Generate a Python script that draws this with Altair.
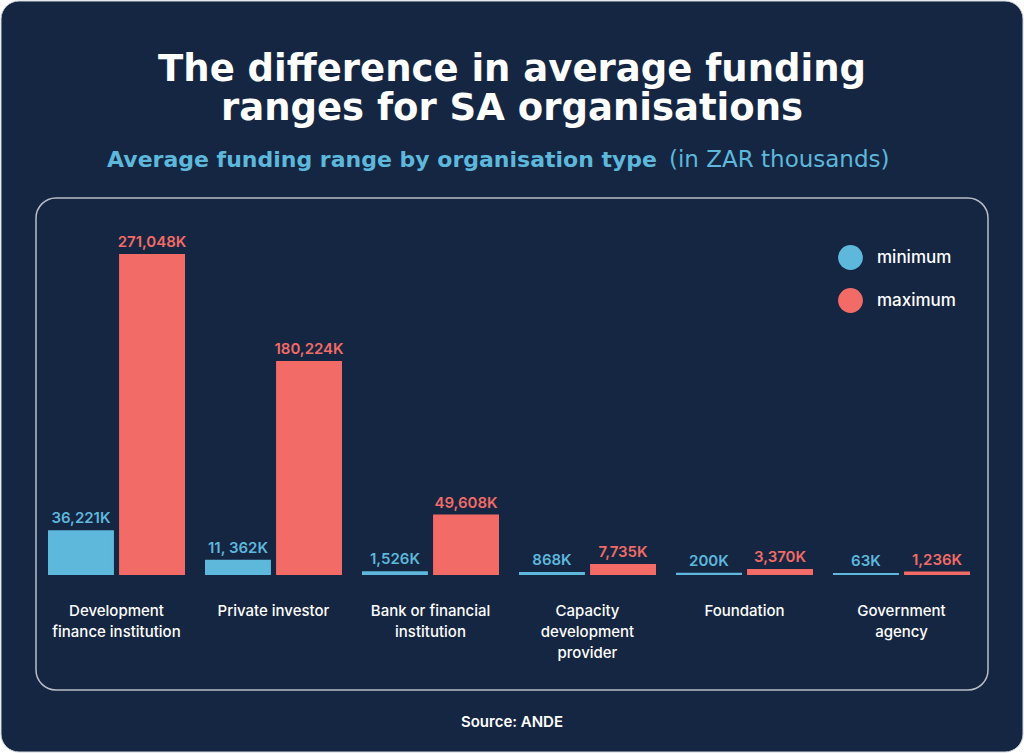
import altair as alt
import pandas as pd

categories = ["Development finance institution", "Private investor", "Bank or financial institution",
              "Capacity development provider", "Foundation", "Government agency"]
category_labels = ["Development\nfinance institution", "Private investor", "Bank or financial\ninstitution",
                   "Capacity\ndevelopment\nprovider", "Foundation", "Government\nagency"]
minimum = [36221, 11362, 1526, 868, 200, 63]
maximum = [271048, 180224, 49608, 7735, 3370, 1236]
min_labels = ["36,221K", "11, 362K", "1,526K", "868K", "200K", "63K"]
max_labels = ["271,048K", "180,224K", "49,608K", "7,735K", "3,370K", "1,236K"]
series = ["minimum", "maximum"]
colors = ["#5db8dc", "#f26b66"]

title_text = ["The difference in average funding\nranges for SA organisations"]
subtitle_bold = ["Average funding range by organisation type"]
subtitle_light = ["(in ZAR thousands)"]
source_text = ["Source: ANDE"]

BG = "#152642"
FONT = "Inter"
TFONT = "DejaVu Sans"

rows = []
for i, c in enumerate(categories):
    rows.append({"category": c, "series": "minimum", "value": minimum[i], "label": min_labels[i]})
    rows.append({"category": c, "series": "maximum", "value": maximum[i], "label": max_labels[i]})
df = pd.DataFrame(rows)
cat_df = pd.DataFrame({"category": categories, "clabel": category_labels})

x_enc = alt.X("category:N", sort=categories, axis=None,
              scale=alt.Scale(paddingInner=0.14, paddingOuter=0.07))
xo_enc = alt.XOffset("series:N", sort=series, scale=alt.Scale(paddingInner=0.1))
y_enc = alt.Y("value:Q", axis=None, scale=alt.Scale(domain=[0, 317800], nice=False))
color_scale = alt.Scale(domain=series, range=colors)

one = pd.DataFrame({"a": [0]})

outer = alt.Chart(one).mark_rect(fill=BG, cornerRadius=18, stroke="#cfd2d8", strokeWidth=1).encode(
    x=alt.value(-37), x2=alt.value(985), y=alt.value(-199), y2=alt.value(552))
frame = alt.Chart(one).mark_rect(fillOpacity=0, cornerRadius=20, stroke="#b9bdc6", strokeWidth=1.5).encode(
    x=alt.value(-2), x2=alt.value(950), y=alt.value(-2), y2=alt.value(490))

bars = alt.Chart(df).mark_bar(strokeWidth=2).encode(
    x=x_enc, xOffset=xo_enc, y=y_enc,
    color=alt.Color("series:N", sort=series, scale=color_scale,
                    legend=alt.Legend(title=None, orient="none", legendX=800, legendY=45,
                                      symbolType="circle", symbolSize=615, symbolStrokeWidth=0,
                                      labelFontSize=17, labelColor="white", labelFont=FONT,
                                      labelFontWeight=500, rowPadding=18, labelOffset=14)),
    stroke=alt.Stroke("series:N", sort=series, scale=color_scale, legend=None),
)

values = alt.Chart(df).mark_text(dy=-8, baseline="alphabetic", font=FONT, fontSize=15, fontWeight=600).encode(
    x=x_enc, xOffset=xo_enc, y=y_enc, text="label:N",
    color=alt.Color("series:N", sort=series, scale=color_scale, legend=None),
)

cat_text = alt.Chart(cat_df).mark_text(baseline="top", font=FONT, fontSize=15, fontWeight=500,
                                       color="white", lineBreak="\n", lineHeight=21).encode(
    x=alt.X("category:N", sort=categories, axis=None), y=alt.value(404), text="clabel:N")

title = alt.Chart(pd.DataFrame({"t": title_text})).mark_text(
    font=TFONT, fontSize=37, fontWeight="bold", color="white", baseline="alphabetic",
    lineBreak="\n", lineHeight=39).encode(
    x=alt.value(474), y=alt.value(-119), text="t:N")
s1 = alt.Chart(pd.DataFrame({"t": subtitle_bold})).mark_text(
    font=TFONT, fontSize=22, fontWeight="bold", color="#5db8dc", baseline="alphabetic", align="right").encode(
    x=alt.value(619), y=alt.value(-33), text="t:N")
s2 = alt.Chart(pd.DataFrame({"t": subtitle_light})).mark_text(
    font=TFONT, fontSize=23, fontWeight="normal", color="#5db8dc", baseline="alphabetic", align="left").encode(
    x=alt.value(631), y=alt.value(-33), text="t:N")
src = alt.Chart(pd.DataFrame({"t": source_text})).mark_text(
    font=FONT, fontSize=15, fontWeight=600, color="white", baseline="alphabetic").encode(
    x=alt.value(474), y=alt.value(527), text="t:N")

chart = alt.layer(outer, frame, bars, values, cat_text, title, s1, s2, src).properties(
    width=942, height=374,
    background="white",
    padding={"left": 38, "top": 200, "right": 44, "bottom": 179},
    autosize=alt.AutoSizeParams(type="none"),
).configure_view(stroke=None)

chart.save("out.html", embed_options={"renderer": "svg", "actions": False})
